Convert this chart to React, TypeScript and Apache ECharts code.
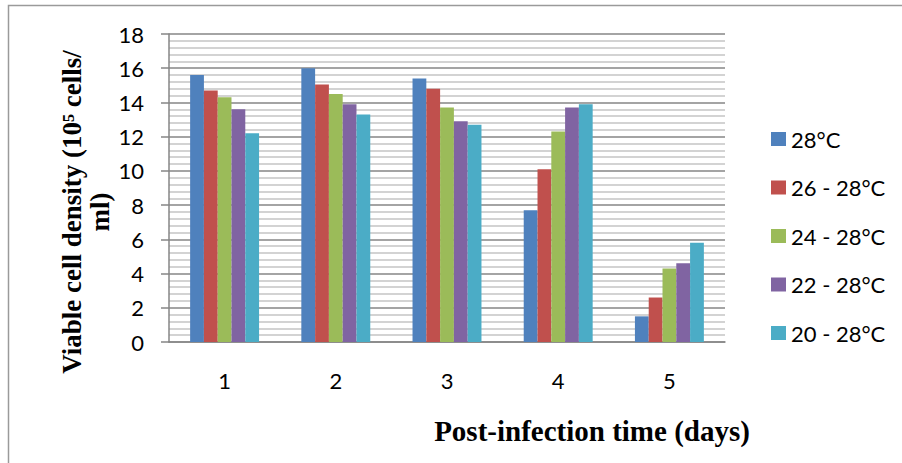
import React, { useEffect, useRef } from "react";
import * as echarts from "echarts";

const days = ["1", "2", "3", "4", "5"];
const seriesNames = ["28°C", "26 - 28°C", "24 - 28°C", "22 - 28°C", "20 - 28°C"];
const s28 = [15.6, 16.0, 15.4, 7.7, 1.5];
const s26 = [14.7, 15.05, 14.8, 10.1, 2.6];
const s24 = [14.3, 14.5, 13.7, 12.3, 4.3];
const s22 = [13.6, 13.9, 12.9, 13.7, 4.6];
const s20 = [12.2, 13.3, 12.7, 13.9, 5.8];
const colors = ["#4F81BD", "#C0504D", "#9BBB59", "#8064A2", "#4BACC6"];

export default function App() {
  const ref = useRef<HTMLDivElement>(null);
  useEffect(() => {
    document.body.style.margin = "0";
    const chart = echarts.init(ref.current!, null, { renderer: "svg" });
    const values = [s28, s26, s24, s22, s20];
    chart.setOption({
      animation: false,
      backgroundColor: "#ffffff",
      grid: { left: 169, right: 177, top: 34, bottom: 121 },
      legend: {
        orient: "vertical",
        left: 766,
        top: 123,
        icon: "rect",
        itemWidth: 15,
        itemHeight: 14,
        itemGap: 26.5,
        textStyle: { fontFamily: "Lato", fontSize: 22, color: "#000", lineHeight: 22 },
        data: seriesNames,
      },
      xAxis: {
        type: "category",
        data: days,
        axisLine: { lineStyle: { color: "#868686", width: 1.5 } },
        axisTick: { show: false },
        axisLabel: { fontFamily: "Lato", fontSize: 22, color: "#000", margin: 27 },
      },
      yAxis: {
        type: "value",
        min: 0,
        max: 18,
        interval: 2,
        axisLine: { show: true, lineStyle: { color: "#868686", width: 1.5 } },
        axisTick: { show: true, length: 8, lineStyle: { color: "#868686", width: 1.5 } },
        axisLabel: { fontFamily: "Lato", fontSize: 22, color: "#000", margin: 25 },
        splitLine: { show: true, lineStyle: { color: "#868686", width: 1.5 } },
        minorTick: { show: false, splitNumber: 5 },
        minorSplitLine: { show: true, lineStyle: { color: "#c4c4c4", width: 1.5 } },
      },
      series: values.map((v, i) => ({
        name: seriesNames[i],
        type: "bar",
        data: v,
        barGap: "0%",
        barCategoryGap: "38%",
        itemStyle: { color: colors[i] },
      })),
      graphic: [
        {
          type: "rect",
          shape: { x: 8.5, y: 5.5, width: 1000, height: 600 },
          style: { fill: "none", stroke: "#9a9a9a", lineWidth: 1.5 },
          silent: true,
        },
        {
          type: "text",
          x: 86,
          y: 212,
          rotation: Math.PI / 2,
          style: {
            text: "Viable cell density (10⁵ cells/\nml)",
            fontFamily: "Liberation Serif",
            fontWeight: "bold",
            fontSize: 27,
            lineHeight: 28,
            fill: "#000",
            align: "center",
            verticalAlign: "middle",
          },
        },
        {
          type: "text",
          x: 592,
          y: 431,
          style: {
            text: "Post-infection time (days)",
            fontFamily: "Liberation Serif",
            fontWeight: "bold",
            fontSize: 29,
            fill: "#000",
            align: "center",
            verticalAlign: "middle",
          },
        },
      ],
    });
    return () => chart.dispose();
  }, []);
  return <div ref={ref} style={{ width: 902, height: 463 }} />;
}
